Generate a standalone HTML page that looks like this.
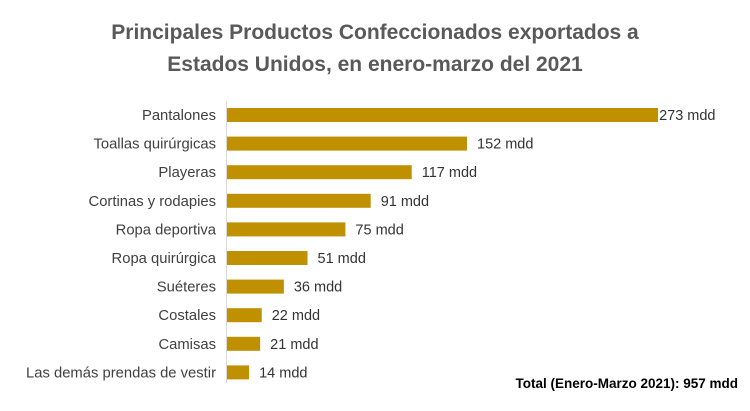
<!DOCTYPE html>
<html><head><meta charset="utf-8"><style>
body{margin:0;background:#fff;font-family:"Liberation Sans",sans-serif;}
</style></head><body>
<svg width="750" height="406" xmlns="http://www.w3.org/2000/svg">
<text x="375" y="39" text-anchor="middle" font-size="21" font-weight="bold" fill="#595959">Principales Productos Confeccionados exportados a</text>
<text x="375" y="71" text-anchor="middle" font-size="21" font-weight="bold" fill="#595959">Estados Unidos, en enero-marzo del 2021</text>
<line x1="226.5" y1="101" x2="226.5" y2="383" stroke="#d9d9d9" stroke-width="1"/>
<g id="bars"></g>
<text x="738" y="388" text-anchor="end" font-size="13.5" font-weight="bold" fill="#000">Total (Enero-Marzo 2021): 957 mdd</text>
</svg>
<script>
const categories=["Pantalones","Toallas quirúrgicas","Playeras","Cortinas y rodapies","Ropa deportiva","Ropa quirúrgica","Suéteres","Costales","Camisas","Las demás prendas de vestir"];
const values=[273,152,117,91,75,51,36,22,21,14];
const valueLabels=["273 mdd","152 mdd","117 mdd","91 mdd","75 mdd","51 mdd","36 mdd","22 mdd","21 mdd","14 mdd"];
const x0=227, scale=1.579, top0=115, step=28.6, bh=14;
const xPos=v=>x0+v*scale;
const yPos=i=>top0+i*step;
const g=document.getElementById('bars');
const ns="http://www.w3.org/2000/svg";
categories.forEach((c,i)=>{
  const y=yPos(i);
  const r=document.createElementNS(ns,'rect');
  r.setAttribute('x',x0);r.setAttribute('y',y-bh/2);
  r.setAttribute('width',xPos(values[i])-x0);r.setAttribute('height',bh);
  r.setAttribute('fill','#BF9000');
  
  
  g.appendChild(r);
  const t=document.createElementNS(ns,'text');
  t.setAttribute('x',216);t.setAttribute('y',y+5);t.setAttribute('text-anchor','end');
  t.setAttribute('font-size','14.8');t.setAttribute('fill','#404040');
  t.textContent=c;
  
  
  g.appendChild(t);
  const v=document.createElementNS(ns,'text');
  v.setAttribute('x',xPos(values[i])+(i===0?1:10));v.setAttribute('y',y+5);
  v.setAttribute('font-size','14.5');v.setAttribute('fill','#333');
  v.textContent=valueLabels[i];
  
  
  g.appendChild(v);
});
</script>
</body></html>
